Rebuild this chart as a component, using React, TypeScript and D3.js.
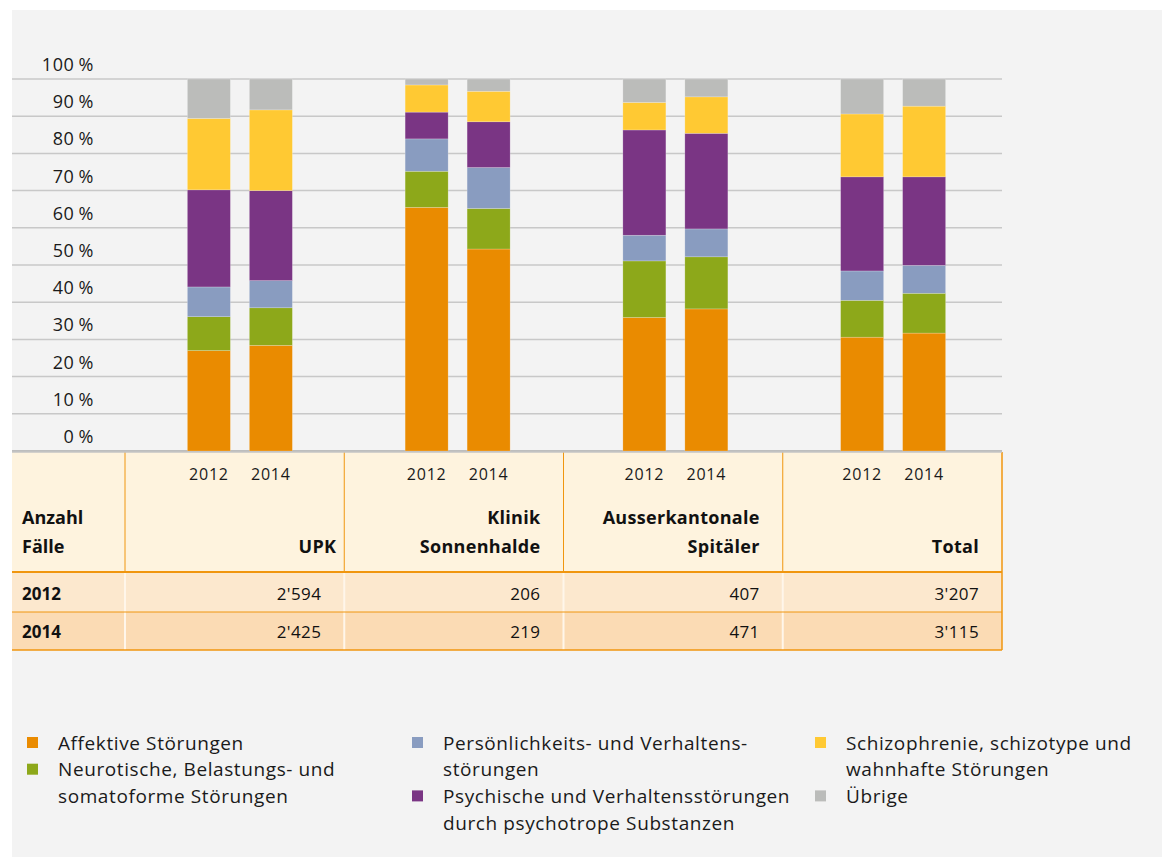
import React from "react";
import * as d3 from "d3";

// Hospital groups and survey years
const groups = ["UPK", "Klinik Sonnenhalde", "Ausserkantonale Spitäler", "Total"];
const groupLabelLines = [["UPK"], ["Klinik", "Sonnenhalde"], ["Ausserkantonale", "Spitäler"], ["Total"]];
const years = ["2012", "2014"];

// Share of diagnoses in %, ordered UPK 2012, UPK 2014, Klinik 2012, Klinik 2014, ...
const affektive = [27.0, 28.4, 65.5, 54.3, 35.9, 38.2, 30.6, 31.7];
const neurotische = [9.1, 10.1, 9.7, 10.9, 15.2, 14.0, 9.9, 10.7];
const persoenlichkeit = [8.0, 7.3, 8.7, 11.0, 6.9, 7.5, 7.9, 7.5];
const psychotrop = [26.1, 24.2, 7.2, 12.3, 28.3, 25.7, 25.3, 23.8];
const schizo = [19.2, 21.7, 7.3, 8.2, 7.4, 9.8, 16.9, 19.0];
const uebrige = [10.6, 8.3, 1.6, 3.3, 6.3, 4.8, 9.4, 7.3];

// Number of cases per group
const cases2012 = [2594, 206, 407, 3207];
const cases2014 = [2425, 219, 471, 3115];

const yTicks = [0, 10, 20, 30, 40, 50, 60, 70, 80, 90, 100];

const seriesKeys = ["affektive", "neurotische", "persoenlichkeit", "psychotrop", "schizo", "uebrige"];
const seriesValues: Record<string, number[]> = { affektive, neurotische, persoenlichkeit, psychotrop, schizo, uebrige };
const seriesColors: Record<string, string> = {
  affektive: "#EA8B00",
  neurotische: "#8DA81A",
  persoenlichkeit: "#899CC0",
  psychotrop: "#7A3584",
  schizo: "#FFC933",
  uebrige: "#BBBCBA",
};

const legendColumns: { key: string; lines: string[] }[][] = [
  [
    { key: "affektive", lines: ["Affektive Störungen"] },
    { key: "neurotische", lines: ["Neurotische, Belastungs- und", "somatoforme Störungen"] },
  ],
  [
    { key: "persoenlichkeit", lines: ["Persönlichkeits- und Verhaltens-", "störungen"] },
    { key: "psychotrop", lines: ["Psychische und Verhaltensstörungen", "durch psychotrope Substanzen"] },
  ],
  [
    { key: "schizo", lines: ["Schizophrenie, schizotype und", "wahnhafte Störungen"] },
    { key: "uebrige", lines: ["Übrige"] },
  ],
];

const FONT = "'Open Sans', 'Noto Sans', sans-serif";
const fmt = d3.formatLocale({ decimal: ".", thousands: "'", grouping: [3], currency: ["", ""] }).format(",");

export default function App() {
  const W = 1162;
  const H = 857;
  const gridLeft = 12;
  const gridRight = 1002;

  const y = d3.scaleLinear().domain([0, 100]).range([451, 79]);

  const xGroup = d3.scaleBand<string>().domain(groups).range([131, 1002]);
  const pairWidth = 105;
  const xYear = d3.scaleBand<string>().domain(years).range([0, pairWidth]).paddingInner(0.306);
  const barX = (g: string, yr: string) =>
    (xGroup(g) as number) + (xGroup.bandwidth() - pairWidth) / 2 + (xYear(yr) as number);

  // One row per bar for the stack layout
  const rows = groups.flatMap((g, gi) =>
    years.map((yr, yi) => {
      const idx = gi * years.length + yi;
      const row: any = { group: g, year: yr };
      seriesKeys.forEach((k) => (row[k] = seriesValues[k][idx]));
      return row;
    })
  );
  const stacked = d3.stack<any>().keys(seriesKeys)(rows);

  // Table layout
  const col = d3.scaleBand<string>().domain(groups).range([125, 1002]);
  const headerTop = 452;
  const headerBottom = 572;
  const row1Bottom = 612;
  const row2Bottom = 650;
  const orange = "#F0960F";

  const valueRight = (g: string) => (col(g) as number) + col.bandwidth() - 23;
  const headerRight = (g: string) =>
    g === "UPK" ? (col(g) as number) + col.bandwidth() - 8 : valueRight(g);

  return (
    <svg
      width={W}
      height={H}
      style={{ position: "absolute", left: 0, top: 0, display: "block" }}
      fontFamily={FONT}
    >
      <rect x={0} y={0} width={W} height={H} fill="#ffffff" />
      <rect x={12} y={10} width={W - 12} height={H - 10} fill="#F3F3F3" />

      {/* gridlines and y labels */}
      {yTicks.map((t) => (
        <g key={t}>
          <line
            x1={gridLeft}
            x2={gridRight}
            y1={y(t)}
            y2={y(t)}
            stroke={t === 0 ? "#BDBDBD" : "#C8C8C8"}
            strokeWidth={t === 0 ? 2 : 1.5}
          />
          <text
            x={94}
            y={y(t) - 15}
            dominantBaseline="central"
            textAnchor="end"
            fontSize={18}
            letterSpacing={0.6}
            fill="#1a1a1a"
          >
            {t}
            <tspan dx={4}>%</tspan>
          </text>
        </g>
      ))}

      {/* stacked bars */}
      {stacked.map((s) => (
        <g key={s.key} fill={seriesColors[s.key]}>
          {s.map((d, i) => (
            <rect
              key={i}
              x={barX(d.data.group, d.data.year)}
              y={y(d[1])}
              width={xYear.bandwidth()}
              height={y(d[0]) - y(d[1])}
              stroke="rgba(255,255,255,0.35)"
              strokeWidth={0.6}
            />
          ))}
        </g>
      ))}

      {/* table backgrounds */}
      <rect x={12} y={headerTop} width={gridRight - 12} height={headerBottom - headerTop} fill="#FEF3DE" />
      <rect x={12} y={headerBottom} width={gridRight - 12} height={row1Bottom - headerBottom} fill="#FCE8CE" />
      <rect x={12} y={row1Bottom} width={gridRight - 12} height={row2Bottom - row1Bottom} fill="#FBDBB4" />

      {/* column separators */}
      {groups.map((g) => (
        <g key={g}>
          <line x1={col(g)} x2={col(g)} y1={headerTop} y2={headerBottom} stroke={orange} strokeWidth={1} />
          <line x1={col(g)} x2={col(g)} y1={headerBottom} y2={row2Bottom} stroke="#FFF6EA" strokeWidth={2} />
        </g>
      ))}
      <line x1={gridRight} x2={gridRight} y1={headerTop} y2={row2Bottom} stroke={orange} strokeWidth={1.5} />
      <line x1={12} x2={gridRight} y1={headerTop} y2={headerTop} stroke="#C4C4C4" strokeWidth={1.5} />
      <line x1={12} x2={gridRight} y1={headerBottom} y2={headerBottom} stroke={orange} strokeWidth={2} />
      <line x1={12} x2={gridRight} y1={row1Bottom} y2={row1Bottom} stroke={orange} strokeWidth={1} />
      <line x1={12} x2={gridRight} y1={row2Bottom} y2={row2Bottom} stroke={orange} strokeWidth={1.5} />

      {/* year labels under the bars */}
      {groups.map((g) =>
        years.map((yr) => (
          <text
            key={g + yr}
            x={barX(g, yr) + xYear.bandwidth() / 2}
            y={474}
            textAnchor="middle"
            dominantBaseline="central"
            fontSize={16}
            letterSpacing={0.8}
            fill="#1a1a1a"
          >
            {yr}
          </text>
        ))
      )}

      {/* header labels */}
      <text x={22} y={517} dominantBaseline="central" fontSize={18} fontWeight={700} fill="#111">
        Anzahl
      </text>
      <text x={22} y={546} dominantBaseline="central" fontSize={18} fontWeight={700} fill="#111">
        Fälle
      </text>
      {groups.map((g, gi) => {
        const lines = groupLabelLines[gi];
        const start = 546 - (lines.length - 1) * 29;
        return lines.map((ln, li) => (
          <text
            key={g + li}
            x={headerRight(g)}
            y={start + li * 29}
            textAnchor="end"
            dominantBaseline="central"
            fontSize={18}
            fontWeight={700}
            letterSpacing={0.3}
            fill="#111"
          >
            {ln}
          </text>
        ));
      })}

      {/* case counts */}
      <text x={22} y={593} dominantBaseline="central" fontSize={17} fontWeight={700} fill="#111">
        {years[0]}
      </text>
      <text x={22} y={631} dominantBaseline="central" fontSize={17} fontWeight={700} fill="#111">
        {years[1]}
      </text>
      {groups.map((g, gi) => (
        <g key={g}>
          <text x={valueRight(g)} y={593} textAnchor="end" dominantBaseline="central" fontSize={17} letterSpacing={0.4} fill="#111">
            {fmt(cases2012[gi])}
          </text>
          <text x={valueRight(g)} y={631} textAnchor="end" dominantBaseline="central" fontSize={17} letterSpacing={0.4} fill="#111">
            {fmt(cases2014[gi])}
          </text>
        </g>
      ))}

      {/* legend */}
      {legendColumns.map((colItems, ci) => {
        const sqX = [27, 412, 815][ci];
        let lineIdx = 0;
        return (
          <g key={ci}>
            {colItems.map((item) => {
              const first = lineIdx;
              lineIdx += item.lines.length;
              const cy0 = 742.5 + first * 26.7;
              return (
                <g key={item.key}>
                  <rect x={sqX} y={cy0 - 5.5} width={11} height={11} fill={seriesColors[item.key]} />
                  {item.lines.map((ln, li) => (
                    <text
                      key={li}
                      x={sqX + 31}
                      y={cy0 + li * 26.7}
                      dominantBaseline="central"
                      fontSize={19}
                      letterSpacing={0.6}
                      fill="#1a1a1a"
                    >
                      {ln}
                    </text>
                  ))}
                </g>
              );
            })}
          </g>
        );
      })}
    </svg>
  );
}
